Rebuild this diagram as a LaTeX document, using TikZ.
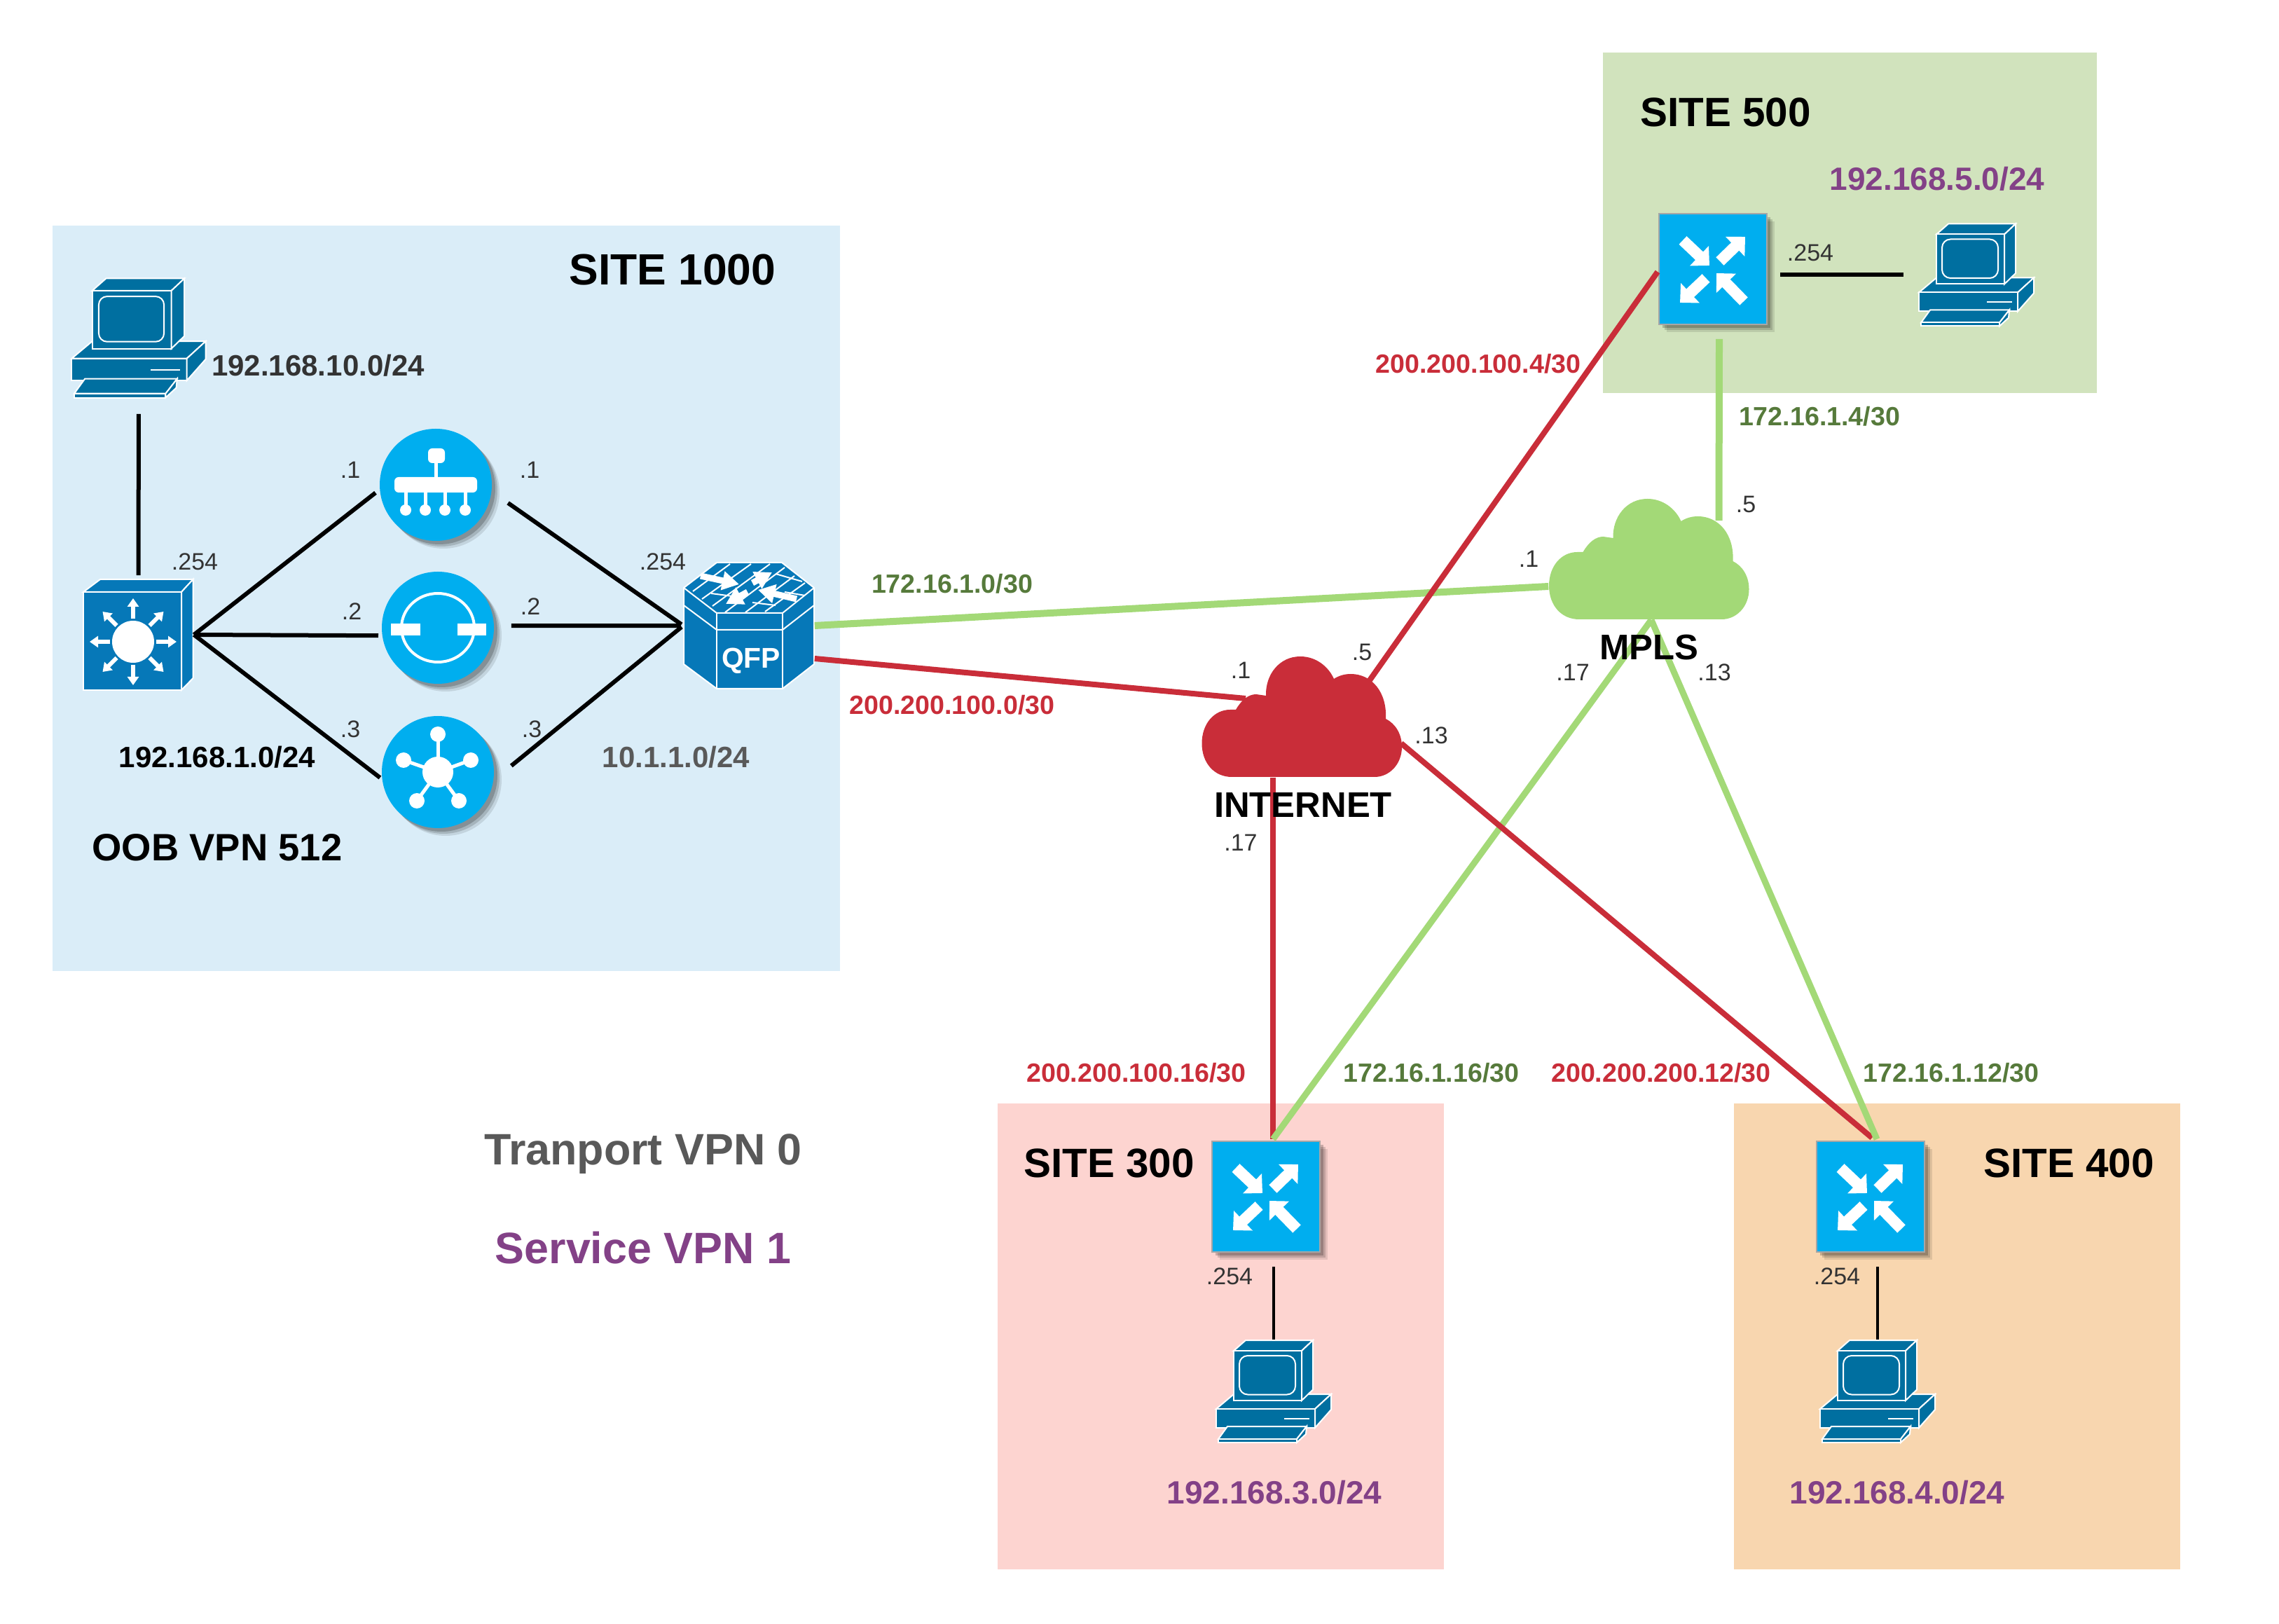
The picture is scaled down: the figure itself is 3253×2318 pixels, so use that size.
\documentclass[tikz,border=0pt]{standalone}
\usepackage{fontspec}
\setmainfont{Liberation Sans}
\usepackage{xcolor}
\usepackage{tikz}
\usetikzlibrary{arrows.meta,calc,shadows}

\definecolor{bluebox}{HTML}{DAEDF8}
\definecolor{greenbox}{HTML}{D1E3BD}
\definecolor{pinkbox}{HTML}{FDD4D0}
\definecolor{orangebox}{HTML}{F8D6AF}
\definecolor{netred}{HTML}{C92D39}
\definecolor{netgreen}{HTML}{A3D977}
\definecolor{textgreen}{HTML}{567A3B}
\definecolor{textpurple}{HTML}{834187}
\definecolor{textgrey}{HTML}{595959}
\definecolor{textdark}{HTML}{333333}
\definecolor{iconblue}{HTML}{0678B8}
\definecolor{pcblue}{HTML}{006FA0}
\definecolor{iconcyan}{HTML}{00AEEF}

\tikzset{
  softshadow/.style={drop shadow={shadow xshift=2.75pt,shadow yshift=-2.75pt,opacity=.1,fill=black},
    drop shadow={shadow xshift=2pt,shadow yshift=-2pt,opacity=.15,fill=black},
    drop shadow={shadow xshift=1.25pt,shadow yshift=-1.25pt,opacity=.2,fill=black}},
  routerbox/.style={rectangle,fill=iconcyan,draw=black!35,line width=.5pt,minimum width=38.5pt,minimum height=39.5pt,inner sep=0pt,softshadow},
  lbcircle/.style={circle,fill=iconcyan,minimum size=40pt,inner sep=0pt,softshadow},
  holder/.style={rectangle,inner sep=0pt},
  whitearrow/.style={white,line width=4pt,-{Triangle[length=5pt,width=9.5pt]}},
  thinarrow/.style={white,line width=1.5pt,-{Triangle[length=3pt,width=4pt]}},
  flatarrow/.style={white,line width=2.25pt,-{Triangle[length=6pt,width=6.5pt]}},
  outline/.style={draw=white,line width=.5pt},
  blackline/.style={line width=1.5pt,black},
  redline/.style={line width=2pt,netred},
  greenline/.style={line width=2.25pt,netgreen},
  sitetext/.style={inner sep=0pt,font=\bfseries\fontsize{14.6}{17}\selectfont},
  purpletext/.style={inner sep=0pt,textpurple,font=\bfseries\fontsize{11.5}{14}\selectfont},
  redtext/.style={inner sep=0pt,netred,font=\bfseries\fontsize{9.4}{11}\selectfont},
  greentext/.style={inner sep=0pt,textgreen,font=\bfseries\fontsize{9.4}{11}\selectfont},
  subnettext/.style={inner sep=0pt,font=\bfseries\fontsize{10.5}{13}\selectfont},
  hosttext/.style={inner sep=0pt,textdark,font=\fontsize{8.5}{10}\selectfont},
  pcicon/.pic={
    \draw[outline,fill=pcblue] (-82,25) -- (-57,4) -- (82,4) -- (59,25) -- cycle;
    \draw[outline,fill=pcblue] (-82,25) rectangle (59,52);
    \draw[outline,fill=pcblue] (59,25) -- (82,4) -- (82,26) -- (59,52) -- cycle;
    \draw[outline] (15,39) -- (51,39);
    \draw[outline,fill=pcblue] (-57,-58) -- (-40,-73) -- (56,-73) -- (40,-58) -- cycle;
    \draw[outline,fill=pcblue] (-57,-58) rectangle (40,13);
    \draw[outline,fill=pcblue] (40,-58) -- (56,-73) -- (56,-2.5) -- (40,13) -- cycle;
    \draw[outline,rounded corners=3pt] (-49,-51) rectangle (31,4.5);
    \draw[outline,fill=pcblue] (-79,68) -- (-66,50) -- (47,50) -- (33,68) -- cycle;
    \draw[outline,fill=pcblue] (-79,68) rectangle (33,73);
    \draw[outline,fill=pcblue] (33,68) -- (47,50) -- (46,61) -- (33,73) -- cycle;
  },
  routericon/.pic={
    \draw[whitearrow] (-43,-41) -- (-5,-5);
    \draw[whitearrow] (10,-11) -- (46,-46);
    \draw[whitearrow] (-10,13) -- (-47,48);
    \draw[whitearrow] (44,46) -- (5,6);
  },
  cloudicon/.pic={
    \fill (-99.5,86) .. controls (-125,86) and (-142.5,66) .. (-142.5,38) .. controls (-142.5,10) and (-125,-10) .. (-102,-10) -- (-94,-10) .. controls (-86,-24) and (-76,-32) .. (-65,-32) -- (-51,-30) .. controls (-52,-60) and (-32,-86) .. (-2,-86) .. controls (20,-86) and (38,-72) .. (46,-54) .. controls (52,-58) and (60,-61) .. (70,-61) .. controls (100,-61) and (122,-35) .. (120,3) .. controls (134,10) and (143,25) .. (143,43) .. controls (143,68) and (125,86) .. (104,86) -- cycle;
  },
  hubicon/.pic={
    \draw[outline,fill=iconblue] (-78.5,-61) -- (-54.5,-79) -- (78,-79) -- (61.5,-61) -- cycle;
    \draw[outline,fill=iconblue] (-78.5,-61) rectangle (61.5,79);
    \draw[outline,fill=iconblue] (61.5,-61) -- (78,-79) -- (78,62) -- (61.5,79) -- cycle;
    \fill[white] (-7.5,10) circle (30);
    \draw[thinarrow] (-7.5,-23) -- (-7.5,-52);
    \draw[thinarrow] (-7.5,43) -- (-7.5,72);
    \draw[thinarrow] (-40.5,10) -- (-69.5,10);
    \draw[thinarrow] (25.5,10) -- (54.5,10);
    \draw[thinarrow] (16,-13) -- (36,-33);
    \draw[thinarrow] (-31,-13) -- (-51,-33);
    \draw[thinarrow] (16,33) -- (36,53);
    \draw[thinarrow] (-31,33) -- (-51,53);
  },
  qfpicon/.pic={
    \draw[outline,fill=iconblue] (-93,-54) -- (-46,-90) -- (47,-90) -- (93,-54) -- (93,55) -- (48,90) -- (-46,90) -- (-93,55) -- cycle;
    \draw[outline] (-93,-54) -- (-46,-18) -- (48,-18) -- (93,-54);
    \draw[outline] (-93,-29) -- (-46,6) -- (48,6) -- (93,-29);
    \draw[outline] (-46,-18) -- (-46,90);
    \draw[outline] (48,-18) -- (48,90);
    \draw[outline] (-80,-49) -- (-27,-88);
    \draw[outline] (-67,-38) -- (3,-88);
    \draw[outline] (-52,-28) -- (30,-88);
    \draw[outline] (-34,-19) -- (51,-83);
    \draw[outline] (-5,-19) -- (65,-71);
    \draw[outline] (23,-20) -- (80,-61);
    \draw[outline] (38,-74) -- (76,-63);
    \draw[outline] (-54,-46) -- (-24,-42);
    \draw[outline] (5,-33) -- (38,-29);
    \draw[outline] (51,-48) -- (80,-43);
    \draw[flatarrow] (-69,-71) -- (-14,-59);
    \draw[flatarrow] (5,-61) -- (33,-76);
    \draw[flatarrow] (68,-38) -- (13,-51);
    \draw[flatarrow] (-2,-48) -- (-33,-31);
    \node[inner sep=0pt,white,font=\bfseries\fontsize{10.2}{12}\selectfont] (qfpword) at (3,50) {QFP};
  },
  fanouticon/.pic={
    \fill[white,rounded corners=1.5pt] (-11,-52) rectangle (13,-31);
    \draw[white,line width=1.25pt] (0,-31) -- (0,-11);
    \fill[white,rounded corners=1.5pt] (-59,-11) rectangle (59,11);
    \draw[white,line width=1.25pt] (-43,11) -- (-43,36);
    \draw[white,line width=1.25pt] (-15,11) -- (-15,36);
    \draw[white,line width=1.25pt] (13,11) -- (13,36);
    \draw[white,line width=1.25pt] (42,11) -- (42,36);
    \fill[white] (-43,36) circle (8);
    \fill[white] (-15,36) circle (8);
    \fill[white] (13,36) circle (8);
    \fill[white] (42,36) circle (8);
  },
  ringicon/.pic={
    \draw[white,line width=1pt] (0,0) ellipse (52 and 49);
    \fill[white] (-67,-6) rectangle (-25,11);
    \fill[white] (28,-6) rectangle (69,11);
  },
  staricon/.pic={
    \draw[white,line width=1.25pt] (0,-54) -- (0,0);
    \draw[white,line width=1.25pt] (-49,-17) -- (0,0);
    \draw[white,line width=1.25pt] (47,-17) -- (0,0);
    \draw[white,line width=1.25pt] (-30,41) -- (0,0);
    \draw[white,line width=1.25pt] (30,41) -- (0,0);
    \fill[white] (0,0) circle (22);
    \fill[white] (0,-54) circle (11);
    \fill[white] (-49,-17) circle (11);
    \fill[white] (47,-17) circle (11);
    \fill[white] (-30,41) circle (11);
    \fill[white] (30,41) circle (11);
  },
}

\begin{document}
\begin{tikzpicture}[x=0.25pt,y=0.25pt,yscale=-1,xscale=1,every pic/.style={yscale=-1}]
\useasboundingbox (0,0) rectangle (3253,2318);
%Shape: Site Boxes
\fill[bluebox] (75,322) rectangle (1199,1386);
\fill[greenbox] (2288,75) rectangle (2993,561);
\fill[pinkbox] (1424,1575) rectangle (2061,2240);
\fill[orangebox] (2475,1575) rectangle (3112,2240);
%Shape: Clouds
\node[holder,minimum width=71.25pt,minimum height=43pt] (mpls) at (2353.5,798) {};
\pic[netgreen] at (mpls.center) {cloudicon};
\node[holder,minimum width=71.25pt,minimum height=43pt] (inet) at (1858,1023) {};
\pic[netred] at (inet.center) {cloudicon};
%Shape: Computers
\node[holder,minimum width=47.5pt,minimum height=42.75pt] (pc1000) at (198,482.5) {};
\pic[scale=1.165] at (pc1000.center) {pcicon};
\node[holder,minimum width=41pt,minimum height=36.5pt] (pc500) at (2821,392.5) {};
\pic at (pc500.center) {pcicon};
\node[holder,minimum width=41pt,minimum height=36.5pt] (pc300) at (1818,1986) {};
\pic at (pc300.center) {pcicon};
\node[holder,minimum width=41pt,minimum height=36.5pt] (pc400) at (2680,1986) {};
\pic at (pc400.center) {pcicon};
%Shape: Routers
\node[routerbox] (rt500) at (2445,384) {};
\pic at (rt500.center) {routericon};
\node[routerbox] (rt300) at (1807,1708) {};
\pic at (rt300.center) {routericon};
\node[routerbox] (rt400) at (2670,1708) {};
\pic at (rt400.center) {routericon};
%Shape: Hub Switch and QFP
\node[holder,minimum width=39.25pt,minimum height=39.5pt] (hub) at (197.5,906) {};
\pic at (hub.center) {hubicon};
\node[holder,minimum width=46.5pt,minimum height=45pt] (qfp) at (1069,893) {};
\pic at (qfp.center) {qfpicon};
%Shape: Circles
\node[lbcircle] (lbtop) at (622,692) {};
\pic at (lbtop.center) {fanouticon};
\node[lbcircle] (lbmid) at (625,896) {};
\pic at (lbmid.center) {ringicon};
\node[lbcircle] (lbbot) at (625,1102) {};
\pic at (lbbot.center) {staricon};
%Straight Lines
\draw[blackline,shorten <=5.5pt,shorten >=1.25pt] (pc1000.south) -- (hub.north);
\draw[blackline,shorten >=1.75pt] (hub.east) -- (lbtop.185);
\draw[blackline,shorten >=1.25pt] (hub.east) -- (lbmid.188);
\draw[blackline,shorten >=.75pt] (hub.east) -- (lbbot.187);
\draw[blackline,shorten <=7pt,shorten >=.75pt] (lbtop.353) -- (qfp.west);
\draw[blackline,shorten <=6pt,shorten >=.75pt] (lbmid.2) -- (qfp.west);
\draw[blackline,shorten <=8pt,shorten >=.75pt] (lbbot.352) -- (qfp.west);
\draw[blackline,shorten <=4.5pt,shorten >=5.25pt] (rt500.east |- pc500.west) -- (pc500.west);
\draw[blackline,line width=1pt,shorten <=5pt] (pc300.north |- rt300.south) -- (pc300.north);
\draw[blackline,line width=1pt,shorten <=5pt] (pc400.north |- rt400.south) -- (pc400.north);
%Straight Lines: Transport
\draw[greenline,line width=2.5pt] (qfp.east) -- ($(mpls.west)+(0,39)$);
\draw[greenline,line width=2.5pt] ($(rt500.south)+(9,20)$) -- ($(mpls.north)+(100,32)$);
\draw[redline] ($(qfp.east)+(0,47)$) -- ($(inet.center)+(-80,-26)$);
\draw[redline] ($(inet.center)+(97,-52)$) -- ($(rt500.west)+(-1,4)$);
\draw[redline] ($(inet.south)+(-41,0)$) -- ($(rt300.north)+(10,-2)$);
\draw[greenline] ($(mpls.south)+(3.5,0)$) -- ($(rt300.north)+(10,-2)$);
\draw[redline] ($(inet.center)+(142,38)$) -- ($(rt400.north)+(2,-4)$);
\draw[greenline] ($(mpls.south)+(3.5,0)$) -- ($(rt400.north)+(9,-2)$);
% Text Node
\node[sitetext,font=\bfseries\fontsize{15.6}{18}\selectfont] (site1000) at (960,385) {SITE 1000};
\node[sitetext] (site500) at (2463,160) {SITE 500};
\node[sitetext] (site300) at (1583,1660) {SITE 300};
\node[sitetext] (site400) at (2953,1660) {SITE 400};
\node[subnettext,textdark] (net10) at (454,522) {192.168.10.0/24};
\node[subnettext] (net1) at (310,1081) {192.168.1.0/24};
\node[subnettext,textgrey] (netqfp) at (965,1081) {10.1.1.0/24};
\node[sitetext,font=\bfseries\fontsize{13.6}{16}\selectfont] (oob) at (310,1210) {OOB VPN 512};
\node[purpletext] (net5) at (2765,255) {192.168.5.0/24};
\node[purpletext] (net3) at (1819,2130) {192.168.3.0/24};
\node[purpletext] (net4) at (2708,2130) {192.168.4.0/24};
\node[sitetext,textgrey,font=\bfseries\fontsize{15.7}{18}\selectfont] (tranport) at (918,1647) {Tranport VPN 0};
\node[sitetext,textpurple,font=\bfseries\fontsize{15.7}{18}\selectfont] (service) at (918,1781) {Service VPN 1};
\node[inner sep=0pt,font=\bfseries\fontsize{12.7}{15}\selectfont] (mplsname) at (2354,924) {MPLS};
\node[inner sep=0pt,font=\bfseries\fontsize{12.7}{15}\selectfont] (inetname) at (1860,1149) {INTERNET};
% Text Node
\node[greentext] (g0) at (1359,833) {172.16.1.0/30};
\node[greentext] (g4) at (2597,594) {172.16.1.4/30};
\node[greentext] (g16) at (2043,1531) {172.16.1.16/30};
\node[greentext] (g12) at (2785,1531) {172.16.1.12/30};
\node[redtext] (r0) at (1359,1006) {200.200.100.0/30};
\node[redtext] (r4) at (2110,519) {200.200.100.4/30};
\node[redtext] (r16) at (1622,1531) {200.200.100.16/30};
\node[redtext] (r12) at (2371,1531) {200.200.200.12/30};
% Text Node
\node[hosttext] (a1) at (278,802) {.254};
\node[hosttext] (a2) at (946,802) {.254};
\node[hosttext] (a3) at (2584,361) {.254};
\node[hosttext] (a4) at (1755,1822) {.254};
\node[hosttext] (a5) at (2622,1822) {.254};
\node[hosttext] (a6) at (500,671) {.1};
\node[hosttext] (a7) at (756,671) {.1};
\node[hosttext] (a8) at (502,873) {.2};
\node[hosttext] (a9) at (757,866) {.2};
\node[hosttext] (a10) at (500,1041) {.3};
\node[hosttext] (a11) at (759,1041) {.3};
\node[hosttext] (a12) at (2492,720) {.5};
\node[hosttext] (a13) at (2182,798) {.1};
\node[hosttext] (a14) at (2245,960) {.17};
\node[hosttext] (a15) at (2447,960) {.13};
\node[hosttext] (a16) at (1771,957) {.1};
\node[hosttext] (a17) at (1944,931) {.5};
\node[hosttext] (a18) at (2043,1050) {.13};
\node[hosttext] (a19) at (1771,1203) {.17};
\end{tikzpicture}
\end{document}
